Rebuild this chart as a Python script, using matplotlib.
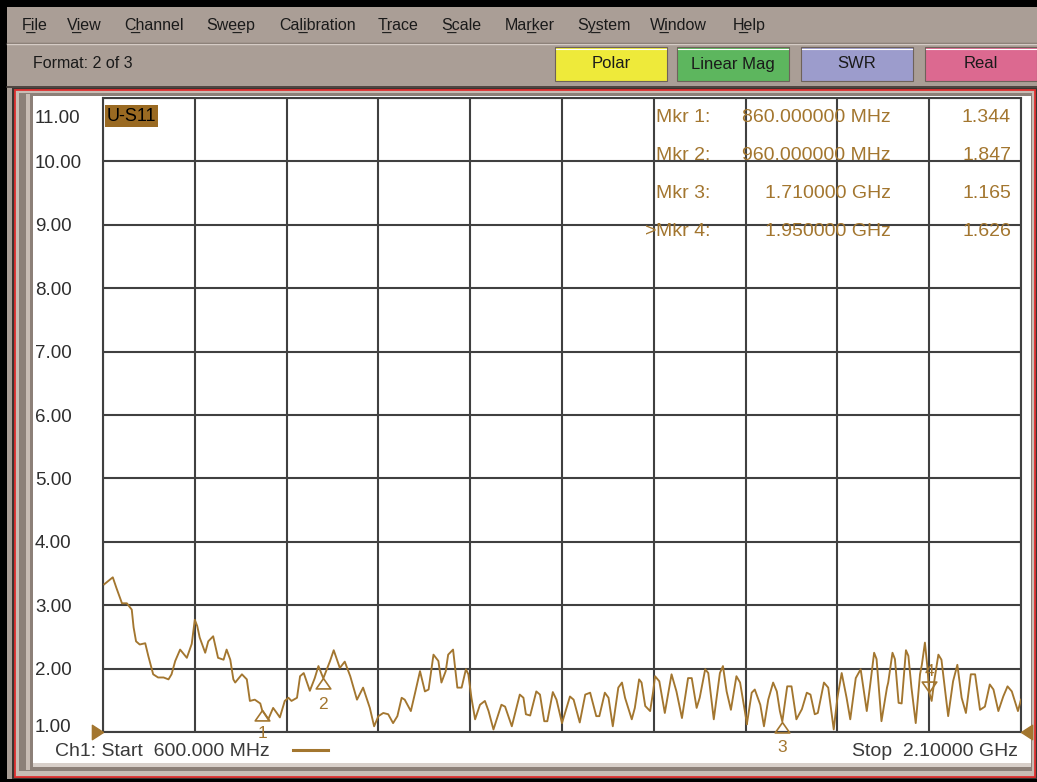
import matplotlib
matplotlib.use('Agg')
import matplotlib.pyplot as plt
from matplotlib.patches import Rectangle
from matplotlib.lines import Line2D
from matplotlib.transforms import ScaledTranslation

plt.rcParams['font.family'] = ['Liberation Sans', 'DejaVu Sans']

W, H = 1037, 782

# S11 trace (frequency in MHz, SWR)
freq_mhz = [602, 616, 622, 631, 639, 647, 650, 654, 660, 669, 674, 682, 690, 699, 707, 712,
            718, 726, 737, 745, 750, 754, 758, 767, 772, 780, 788, 797, 802, 808, 813,
            816, 827, 835, 840, 848, 857, 860, 870, 878, 884, 889, 897, 903, 908, 917,
            922, 928, 938, 946, 952, 960, 971, 977, 987, 995, 1004, 1015, 1025,
            1036, 1043, 1050, 1058, 1066, 1074, 1081, 1088, 1093, 1103, 1110, 1118, 1126,
            1132, 1140, 1148, 1153, 1160, 1164, 1172, 1179, 1186, 1193, 1197, 1202, 1208,
            1216, 1224, 1230, 1238,
            1251, 1257, 1268, 1281, 1287, 1291, 1298, 1308, 1314, 1321, 1326, 1335, 1341,
            1350, 1363, 1369, 1379, 1388, 1396, 1406, 1411, 1420, 1426, 1433, 1442, 1448, 1453,
            1464, 1469, 1476, 1480, 1486, 1494, 1499, 1502, 1509, 1518, 1529, 1537, 1546,
            1556, 1562, 1570, 1575, 1584, 1589, 1598, 1608, 1613, 1619, 1626, 1635, 1641,
            1651, 1652, 1660, 1665,
            1674, 1680, 1687, 1695, 1701, 1706, 1710, 1718, 1725, 1733, 1742, 1750, 1756,
            1763, 1768, 1778, 1785, 1794, 1800, 1807, 1815, 1821, 1830, 1838, 1848, 1853,
            1860, 1864, 1872,
            1881, 1883, 1890, 1894, 1900, 1905, 1912, 1916, 1921, 1928, 1935, 1938, 1943,
            1947, 1950, 1954, 1959, 1965, 1970, 1981, 1989, 1996, 2003, 2010, 2018, 2025,
            2033, 2041, 2049, 2055, 2063, 2071, 2078, 2085, 2095, 2100]
swr = [3.33, 3.44, 3.27, 3.03, 3.03, 2.93, 2.65, 2.43, 2.38, 2.40, 2.20, 1.91, 1.86, 1.86, 1.83, 1.91,
       2.12, 2.30, 2.17, 2.39, 2.77, 2.67, 2.49, 2.25, 2.43, 2.51, 2.17, 2.14, 2.30, 2.14, 1.83,
       1.78, 1.91, 1.83, 1.49, 1.51, 1.45, 1.344, 1.20, 1.38, 1.30, 1.23, 1.49, 1.54, 1.49, 1.54,
       1.88, 1.93, 1.65, 1.85, 2.04, 1.847, 2.12, 2.29, 2.01, 2.11, 1.88, 1.51, 1.70,
       1.38, 1.09, 1.25, 1.30, 1.28, 1.14, 1.25, 1.54, 1.51, 1.33, 1.62, 1.96, 1.64,
       1.67, 2.22, 2.12, 1.78, 1.96, 2.22, 2.30, 1.70, 1.70, 1.99, 1.91, 1.54, 1.20,
       1.43, 1.49, 1.33, 1.04,
       1.43, 1.40, 1.09, 1.59, 1.54, 1.28, 1.26, 1.64, 1.59, 1.17, 1.17, 1.63, 1.51,
       1.14, 1.56, 1.51, 1.15, 1.59, 1.62, 1.25, 1.25, 1.62, 1.54, 1.09, 1.70, 1.78, 1.54,
       1.20, 1.38, 1.83, 1.78, 1.41, 1.33, 1.64, 1.88, 1.80, 1.30, 1.91, 1.64, 1.22,
       1.85, 1.85, 1.38, 1.54, 1.99, 1.93, 1.20, 1.93, 2.04, 1.64, 1.35, 1.88, 1.78,
       1.20, 1.12, 1.62, 1.67,
       1.43, 1.09, 1.51, 1.78, 1.64, 1.33, 1.165, 1.72, 1.72, 1.20, 1.36, 1.62, 1.59,
       1.28, 1.30, 1.78, 1.70, 1.04, 1.54, 1.93, 1.54, 1.20, 1.85, 1.99, 1.33, 1.70,
       2.25, 2.15, 1.17,
       1.70, 1.78, 2.25, 2.15, 1.46, 1.45, 2.29, 2.20, 1.70, 1.14, 1.91, 2.06, 2.41,
       2.03, 1.626, 1.49, 1.85, 2.22, 2.14, 1.25, 1.80, 2.06, 1.54, 1.30, 1.91, 1.91,
       1.35, 1.40, 1.75, 1.67, 1.33, 1.56, 1.72, 1.64, 1.33, 1.51]

mkr_freq = [860, 960, 1710, 1950]
mkr_swr = [1.344, 1.847, 1.165, 1.626]
mkr_freq_txt = ['860.000000 MHz', '960.000000 MHz', '1.710000 GHz', '1.950000 GHz']

y_ticks = [1, 2, 3, 4, 5, 6, 7, 8, 9, 10, 11]
x_ticks = [600, 750, 900, 1050, 1200, 1350, 1500, 1650, 1800, 1950, 2100]

menu_items = ['F\u0332ile', 'V\u0332iew', 'C\u0332hannel', 'Swe\u0332ep', 'Cal\u0332ibration',
              'T\u0332race', 'S\u0332cale', 'Mar\u0332ker', 'Sy\u0332stem', 'W\u0332indow', 'H\u0332elp']
menu_x = [22, 67, 124, 206, 279, 378, 441, 505, 577, 650, 733]
buttons = ['Polar', 'Linear Mag', 'SWR', 'Real']
button_colors = ['#eeea3a', '#5db65e', '#9c9ccc', '#dc6990']
button_x = [555, 677, 801, 925]

TRACE = '#a3762f'
GRID = '#404040'


def fx(x):
    return x / W


def fy(y):
    return 1 - y / H


def box(fig, x0, y0, x1, y1, fc, ec='none', lw=0, z=0):
    r = Rectangle((fx(x0), fy(y1)), (x1 - x0) / W, (y1 - y0) / H, transform=fig.transFigure,
                  facecolor=fc, edgecolor=ec, linewidth=lw, zorder=z)
    fig.add_artist(r)


def hline(fig, x0, x1, y, color, lw=1.0):
    fig.add_artist(Line2D([fx(x0), fx(x1)], [fy(y), fy(y)], transform=fig.transFigure,
                          color=color, lw=lw))


fig = plt.figure(figsize=(W / 100, H / 100), dpi=100, facecolor='#aa9e96')

# window chrome
box(fig, 0, 0, W, 7, 'black')
box(fig, 0, 0, 7, H, 'black')
hline(fig, 7, W, 42.5, '#7c7068')
hline(fig, 7, W, 44, '#d6ccc6')
for txt, x in zip(menu_items, menu_x):
    fig.text(fx(x), fy(25), txt, fontsize=11.5, color='#1a1a1a', va='center', ha='left')
fig.text(fx(33), fy(63), 'Format: 2 of 3', fontsize=11.5, color='#1a1a1a', va='center')
for name, col, x in zip(buttons, button_colors, button_x):
    box(fig, x, 47, x + 112, 81, col, ec='#6e625a', lw=0.8)
    hline(fig, x + 1, x + 111, 48.5, 'white', lw=0.8)
    fig.text(fx(x + 56), fy(64), name, fontsize=12, color='#1a1a1a', ha='center', va='center')
hline(fig, 7, W, 87, '#3c3430', lw=1.2)

box(fig, 12, 88, W, H, '#3a3430')
box(fig, 15, 90, 1035, 777, '#c8bcb4', ec='#e03030', lw=1.3)
box(fig, 19, 93, 1032, 771, '#8c8078')
box(fig, 26, 94, 30, 770, '#c8bcb4')
box(fig, 33, 96, 1031, 763, 'white')
box(fig, 33, 763, 1031, 767, '#d8d0ca')
box(fig, 0, 779, W, H, 'black')

# plot area
ax = fig.add_axes([fx(103), fy(732), 918 / W, 634 / H])
ax.set_facecolor('white')
ax.set_xlim(600, 2100)
ax.set_ylim(1, 11)
ax.set_xticks(x_ticks)
ax.set_xticklabels([])
ax.set_yticks(y_ticks, [f'{v:.2f}' for v in y_ticks])
ax.tick_params(length=0, pad=49, labelsize=13.5, labelcolor='#2e2e2e')
ax.grid(True, color=GRID, lw=1.5)
for s in ax.spines.values():
    s.set_color(GRID)
    s.set_linewidth(1.5)
ticklabels = ax.get_yticklabels()
for lab in ticklabels:
    lab.set_horizontalalignment('left')
ticklabels[-1].set_transform(ticklabels[-1].get_transform() +
                             ScaledTranslation(0, -0.19, fig.dpi_scale_trans))
ticklabels[0].set_transform(ticklabels[0].get_transform() +
                            ScaledTranslation(0, 0.07, fig.dpi_scale_trans))

ax.plot(freq_mhz, swr, color=TRACE, lw=1.35, zorder=3)

# markers: apex at the trace point
up_tri = [(0, 0), (-0.7, -1), (0.7, -1), (0, 0)]
down_tri = [(0, 0), (-0.7, 1), (0.7, 1), (0, 0)]
label_dy = [-16.5, -19, -19, 15]
for i, (f, v) in enumerate(zip(mkr_freq, mkr_swr)):
    tri = down_tri if i == 3 else up_tri
    ax.plot([f], [v], marker=tri, ms=15, mfc='none', mec=TRACE, mew=1.2, ls='none',
            zorder=4, clip_on=False)
    ax.annotate(str(i + 1), (f, v), xytext=(0, label_dy[i]), textcoords='offset points',
                ha='center', va='center', fontsize=12.5, color=TRACE, annotation_clip=False)

# start / stop arrows
ax.plot([600], [1], marker=[(0, 0), (-1, 0.65), (-1, -0.65), (0, 0)], ms=16, color=TRACE,
        clip_on=False, zorder=5)
ax.plot([2100], [1], marker=[(0, 0), (1, 0.65), (1, -0.65), (0, 0)], ms=16, color=TRACE,
        clip_on=False, zorder=5)

# trace label
ax.text(0.004, 0.985, 'U-S11', transform=ax.transAxes, ha='left', va='top', fontsize=13,
        color='black', bbox=dict(boxstyle='square,pad=0.12', fc='#9a6a22', ec='none'))

# marker readout table
row_y = [118, 155, 194, 232]
for i, y in enumerate(row_y):
    fig.text(fx(656), fy(y), f'Mkr {i + 1}:', fontsize=14, color=TRACE, va='center')
    if i == 3:
        fig.text(fx(656), fy(y), '>', fontsize=14, color=TRACE, va='center', ha='right')
    fig.text(fx(891), fy(y), mkr_freq_txt[i], fontsize=14, color=TRACE, va='center', ha='right')
    fig.text(fx(1011), fy(y), f'{mkr_swr[i]:.3f}', fontsize=14, color=TRACE, va='center',
             ha='right')

# channel footer
fig.text(fx(55), fy(751), 'Ch1: Start  600.000 MHz', fontsize=14, color='#3a3a3a', va='center')
fig.text(fx(1018), fy(751), 'Stop  2.10000 GHz', fontsize=14, color='#3a3a3a', va='center',
         ha='right')
fig.add_artist(Line2D([fx(293), fx(328)], [fy(750), fy(750)], transform=fig.transFigure,
                      color=TRACE, lw=2.2))

fig.savefig('out.png', dpi=100, facecolor=fig.get_facecolor())
